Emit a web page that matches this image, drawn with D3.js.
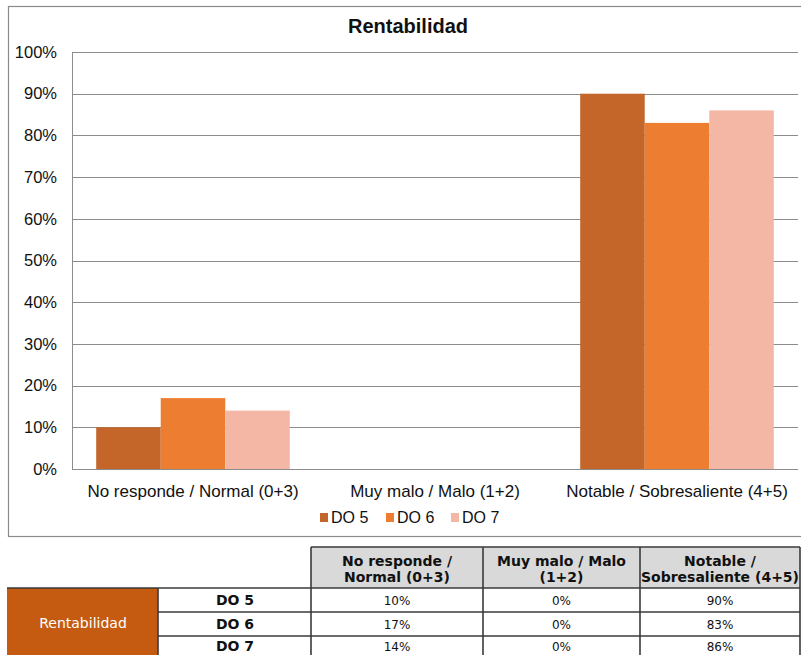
<!DOCTYPE html>
<html>
<head>
<meta charset="utf-8">
<script src="https://cdn.jsdelivr.net/npm/d3@7"></script>
<style>
  html, body { margin: 0; padding: 0; background: #fff; }
  svg { display: block; }
</style>
</head>
<body>
<svg id="chart" width="801" height="655"></svg>
<script>
// ---- data ----
const title = "Rentabilidad";
const categories = ["No responde / Normal (0+3)", "Muy malo / Malo (1+2)", "Notable / Sobresaliente (4+5)"];
const tableHeaders = [["No responde /", "Normal (0+3)"], ["Muy malo / Malo", "(1+2)"], ["Notable /", "Sobresaliente (4+5)"]];
const seriesNames = ["DO 5", "DO 6", "DO 7"];
const do5 = [10, 0, 90];
const do6 = [17, 0, 83];
const do7 = [14, 0, 86];
const yTicks = [0, 10, 20, 30, 40, 50, 60, 70, 80, 90, 100];
const rowLabel = "Rentabilidad";

const seriesValues = [do5, do6, do7];
const colors = ["#C4662A", "#ED7D31", "#F4B7A5"];

const svg = d3.select("#chart");
const font = "'Liberation Sans', Arial, sans-serif";

// frame
svg.append("rect").attr("x", 8.5).attr("y", 6.5).attr("width", 800).attr("height", 530)
  .attr("fill", "#fff").attr("stroke", "#8a8a8a").attr("stroke-width", 1.2);

// title
svg.append("text").attr("x", 408).attr("y", 33).attr("text-anchor", "middle")
  .attr("font-family", font).attr("font-weight", "bold").attr("font-size", 20)
  .attr("fill", "#111").text(title);

const plotL = 72, plotR = 798, plotT = 52, plotB = 469;
const x0 = d3.scaleBand().domain(categories).range([plotL, plotR]).paddingInner(0.2).paddingOuter(0.1);
const x1 = d3.scaleBand().domain(seriesNames).range([0, x0.bandwidth()]);
const y = d3.scaleLinear().domain([0, 100]).range([plotB, plotT]);

// gridlines
svg.append("g").selectAll("line").data(yTicks.filter(d => d > 0)).join("line")
  .attr("x1", plotL).attr("x2", plotR)
  .attr("y1", d => Math.round(y(d)) + 0.5).attr("y2", d => Math.round(y(d)) + 0.5)
  .attr("stroke", "#8c8c8c").attr("stroke-width", 1);

// y axis
const yAxis = d3.axisLeft(y).tickValues(yTicks).tickFormat(d => d + "%").tickSize(0).tickPadding(15);
const gy = svg.append("g").attr("transform", `translate(${plotL},0)`).call(yAxis);
gy.select(".domain").attr("stroke", "#8c8c8c");
gy.selectAll("text").attr("font-family", font).attr("font-size", 16.5).attr("fill", "#111");

// bars
const groups = svg.append("g").selectAll("g").data(categories).join("g")
  .attr("transform", d => `translate(${x0(d)},0)`);
groups.selectAll("rect").data((c, i) => seriesNames.map((s, j) => ({ s, j, v: seriesValues[j][i] })))
  .join("rect")
  .attr("x", d => x1(d.s)).attr("width", x1.bandwidth())
  .attr("y", d => y(d.v)).attr("height", d => plotB - y(d.v))
  .attr("fill", d => colors[d.j]);

// x axis
const xAxis = d3.axisBottom(x0).tickSize(0).tickPadding(16);
const gx = svg.append("g").attr("transform", `translate(0,${plotB})`).call(xAxis);
gx.select(".domain").attr("stroke", "#8c8c8c").attr("d", `M${plotL},0.5H${plotR}`);
gx.selectAll("text").attr("font-family", font).attr("font-size", 17).attr("fill", "#111");

// legend
const legendX = [320, 386, 451];
const lg = svg.append("g").selectAll("g").data(seriesNames).join("g")
  .attr("transform", (d, i) => `translate(${legendX[i]},513)`);
lg.append("rect").attr("width", 8).attr("height", 9).attr("fill", (d, i) => colors[i]);
lg.append("text").attr("x", 11).attr("y", 10).attr("font-family", font).attr("font-size", 16)
  .attr("fill", "#111").text(d => d);

// ---- table ----
const tfont = "'DejaVu Sans', Verdana, sans-serif";
const colX = [311, 483, 640, 800];
const hdrT = 547, hdrB = 588;
const rowY = [588, 612, 636, 660];
const border = "#3a3a3a";
const t = svg.append("g");

// header cells
tableHeaders.forEach((h, i) => {
  t.append("rect").attr("x", colX[i]).attr("y", hdrT).attr("width", colX[i + 1] - colX[i]).attr("height", hdrB - hdrT)
    .attr("fill", "#D9D9D9");
  h.forEach((line, k) => {
    t.append("text").attr("x", (colX[i] + colX[i + 1]) / 2).attr("y", 566 + k * 16)
      .attr("text-anchor", "middle").attr("font-family", tfont).attr("font-weight", "bold")
      .attr("font-size", 14).attr("fill", "#111").text(line);
  });
});

// orange label cell
t.append("rect").attr("x", 7).attr("y", rowY[0]).attr("width", 151).attr("height", rowY[3] - rowY[0])
  .attr("fill", "#C55A11");
t.append("text").attr("x", 83).attr("y", 628).attr("text-anchor", "middle")
  .attr("font-family", tfont).attr("font-size", 14).attr("fill", "#fff").text(rowLabel);

// rows
const baseY = r => Math.min(rowY[r] + 17, 651);
seriesNames.forEach((s, r) => {
  t.append("text").attr("x", 235).attr("y", baseY(r)).attr("text-anchor", "middle")
    .attr("font-family", tfont).attr("font-weight", "bold").attr("font-size", 14).attr("fill", "#111").text(s);
  seriesValues[r].forEach((v, c) => {
    t.append("text").attr("x", (colX[c] + colX[c + 1]) / 2).attr("y", baseY(r)).attr("text-anchor", "middle")
      .attr("font-family", tfont).attr("font-size", 12).attr("fill", "#111").text(v + "%");
  });
});

// table lines
const L = (x1_, y1_, x2_, y2_) => t.append("line").attr("x1", x1_).attr("y1", y1_).attr("x2", x2_).attr("y2", y2_)
  .attr("stroke", border).attr("stroke-width", 1.6);
L(colX[0], hdrT, colX[3], hdrT);
L(7, rowY[0], colX[3], rowY[0]);
L(158, rowY[1], colX[3], rowY[1]);
L(158, rowY[2], colX[3], rowY[2]);
colX.forEach(cx => L(cx, hdrT, cx, 655));
L(158, rowY[0], 158, 655);
</script>
</body>
</html>
